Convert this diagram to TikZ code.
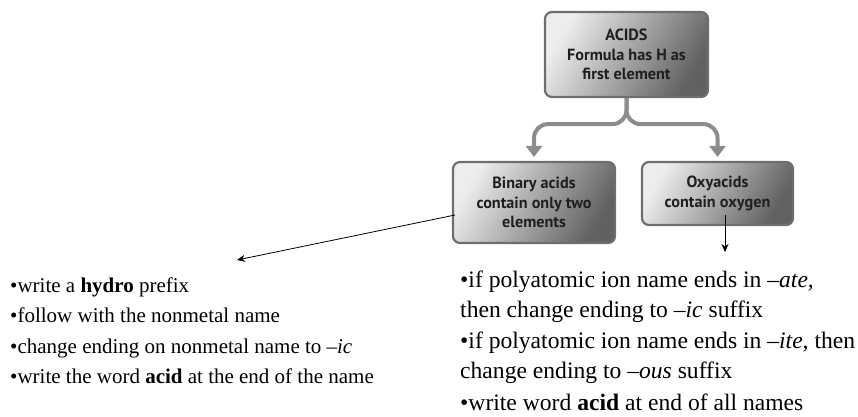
\documentclass[tikz,border=0pt]{standalone}
\usepackage{fontspec}
\setmainfont{Liberation Serif}
\newfontfamily\boxfont{PT Sans}
\usetikzlibrary{arrows.meta}
\definecolor{boxedge}{HTML}{6E6E6E}
\definecolor{arrowgray}{HTML}{8C8C8C}
\tikzset{
  acidbox/.style={rounded corners=7pt, draw=boxedge, line width=2.2pt,
    left color=black!7, right color=black!62, shading angle=60,
    align=center, inner sep=2pt, text=black!88,
    font=\boxfont\bfseries\fontsize{16.2}{19.5}\selectfont},
  grayarrow/.style={draw=arrowgray, line width=4pt, rounded corners=14pt,
    -{Triangle[width=16pt,length=11pt]}, shorten >=4pt},
  thinarrow/.style={draw=black, line width=0.8pt, -{Stealth[length=8pt,width=7pt]}},
  leftline/.style={anchor=base west, inner sep=0pt, font=\fontsize{21}{24}\selectfont},
  rightline/.style={anchor=base west, inner sep=0pt, font=\fontsize{23.6}{28}\selectfont}
}
\begin{document}
\begin{tikzpicture}[x=1pt, y=-1pt]
\useasboundingbox (0,0) rectangle (858,416);
\node[acidbox, minimum width=163pt, minimum height=85pt] (top) at (626.5,54.5)
  {ACIDS\\Formula has H as\\first element};
\node[acidbox, minimum width=162pt, minimum height=81pt] (binary) at (534,202.5)
  {Binary acids\\contain only two\\elements};
\node[acidbox, minimum width=151pt, minimum height=63pt] (oxy) at (717.5,193.5)
  {Oxyacids\\contain oxygen};
\draw[grayarrow] (top.south) -- ++(0,26) -| (binary.north);
\draw[grayarrow] (top.south) -- ++(0,26) -| (oxy.north);
\coordinate (bstart) at (455,215);
\coordinate (btip) at (237,260);
\coordinate (ostart) at (725,215);
\coordinate (otip) at (725,252);
\draw[thinarrow] (bstart) -- (btip);
\draw[thinarrow] (ostart) -- (otip);
\node[leftline] (l1) at (10,292) {•write a \textbf{hydro} prefix};
\node[leftline] (l2) at (10,322) {•follow with the nonmetal name};
\node[leftline] (l3) at (10,353) {•change ending on nonmetal name to \textit{–ic}};
\node[leftline] (l4) at (10,383) {•write the word \textbf{acid} at the end of the name};
\node[rightline] (r1) at (460,287) {•if polyatomic ion name ends in \textit{–ate,}};
\node[rightline] (r2) at (460,317) {then change ending to \textit{–ic} suffix};
\node[rightline] (r3) at (460,348) {•if polyatomic ion name ends in \textit{–ite}, then};
\node[rightline] (r4) at (460,378) {change ending to \textit{–ous} suffix};
\node[rightline] (r5) at (460,410) {•write word \textbf{acid} at end of all names};
\end{tikzpicture}
\end{document}
